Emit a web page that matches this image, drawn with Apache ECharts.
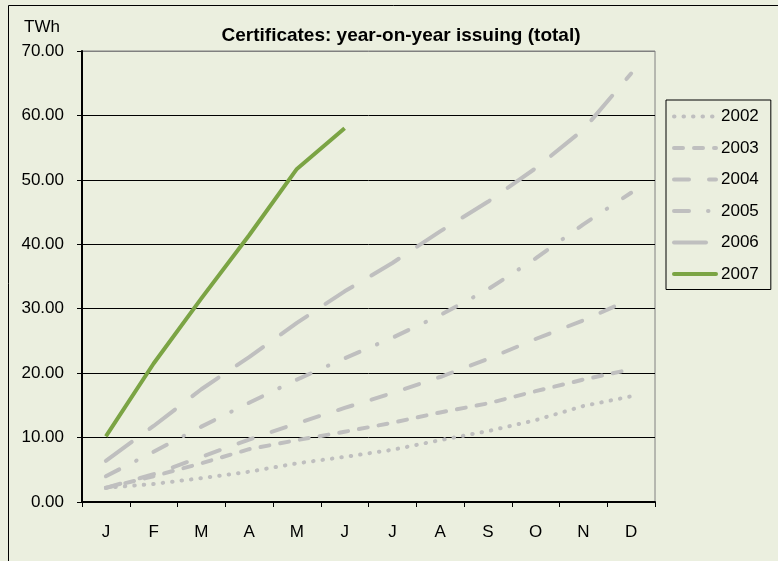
<!DOCTYPE html>
<html>
<head>
<meta charset="utf-8">
<script src="https://cdn.jsdelivr.net/npm/echarts@6/dist/echarts.min.js"></script>
<style>
html,body{margin:0;padding:0;background:#EBEFDF;}
#chart{width:778px;height:561px;}
</style>
</head>
<body>
<div id="chart"></div>
<script>
var months = ['J','F','M','A','M','J','J','A','S','O','N','D'];
var yTicks = [0,10,20,30,40,50,60,70];
var y2002 = [2.2, 2.8, 3.7, 4.7, 6.0, 7.0, 8.1, 9.6, 11.0, 12.7, 14.9, 16.4];
var y2003 = [2.2, 4.0, 6.0, 8.2, 9.6, 10.9, 12.3, 13.9, 15.3, 17.2, 19.0, 20.6];
var y2004 = [2.2, 4.3, 7.0, 9.7, 12.2, 14.6, 16.9, 19.4, 22.2, 25.3, 28.2, 31.5];
var y2005 = [4.0, 7.8, 11.7, 15.4, 19.0, 22.3, 25.5, 29.0, 33.0, 37.8, 43.1, 48.0];
var y2006 = [6.4, 11.8, 17.5, 22.5, 27.8, 32.7, 37.1, 42.0, 46.6, 51.8, 57.8, 66.5];
var y2007 = [10.2, 21.5, 31.6, 41.4, 51.7, 58.0];
var names = ['2002','2003','2004','2005','2006','2007'];

var GRAY = '#BFBFBF';
var FONT = 'Liberation Sans, Arial, sans-serif';
function grayLine(name, data, dash) {
  return {
    name: name, type: 'line', data: data, symbol: 'none', smooth: false,
    lineStyle: {color: GRAY, width: 4, type: dash, cap: 'round', join: 'round'},
    itemStyle: {color: GRAY}
  };
}
var chart = echarts.init(document.getElementById('chart'), null, {renderer: 'canvas'});
chart.setOption({
  backgroundColor: '#EBEFDF',
  animation: false,
  graphic: [{
    type: 'rect', left: 6, top: 3, z: -1,
    shape: {width: 800, height: 600},
    style: {fill: 'none', stroke: '#000', lineWidth: 1}
  }],
  title: [{
    text: 'Certificates: year-on-year issuing (total)',
    left: 396, top: 21, textAlign: 'center',
    textStyle: {fontFamily: FONT, fontSize: 19, fontWeight: 'bold', color: '#000'}
  }, {
    text: 'TWh', left: 19, top: 14,
    textStyle: {fontFamily: FONT, fontSize: 17, fontWeight: 'normal', color: '#000'}
  }],
  legend: {
    orient: 'vertical', left: 666, top: 100,
    padding: [8, 12, 7, 6],
    itemWidth: 42, itemHeight: 14, itemGap: 14.5,
    borderColor: '#000', borderWidth: 1,
    data: names,
    itemStyle: {opacity: 0},
    lineStyle: {width: 4, cap: 'round'},
    textStyle: {fontFamily: FONT, fontSize: 17, color: '#000'}
  },
  grid: {
    left: 82, right: 123, top: 51, bottom: 59,
    show: true, borderColor: '#808080', borderWidth: 1, backgroundColor: 'transparent'
  },
  xAxis: {
    type: 'category', data: months, boundaryGap: true,
    axisLine: {lineStyle: {color: '#000', width: 2}},
    axisTick: {show: true, length: 5, lineStyle: {color: '#000', width: 1}},
    axisLabel: {fontFamily: FONT, fontSize: 17, color: '#000', margin: 22},
    splitLine: {show: false}
  },
  yAxis: {
    type: 'value', min: 0, max: 70, interval: 10,
    axisLine: {show: true, lineStyle: {color: '#000', width: 2}},
    axisTick: {show: true, length: 5, lineStyle: {color: '#000', width: 1}},
    axisLabel: {fontFamily: FONT, fontSize: 17, color: '#000', margin: 18,
      formatter: function (v) { return v.toFixed(2); }},
    splitLine: {show: true, lineStyle: {color: ['#000','#000','#000','#000','#000','#000','#000','#808080'], width: 1}}
  },
  series: [
    grayLine('2002', y2002, [0.5, 9]),
    grayLine('2003', y2003, [9, 11]),
    grayLine('2004', y2004, [15, 20]),
    grayLine('2005', y2005, [15, 19, 0.5, 19]),
    grayLine('2006', y2006, [32, 22]),
    {
      name: '2007', type: 'line', data: y2007, symbol: 'none', z: 5,
      lineStyle: {color: '#7BA444', width: 4, type: 'solid', join: 'round'},
      itemStyle: {color: '#7BA444'}
    }
  ]
});
</script>
</body>
</html>
